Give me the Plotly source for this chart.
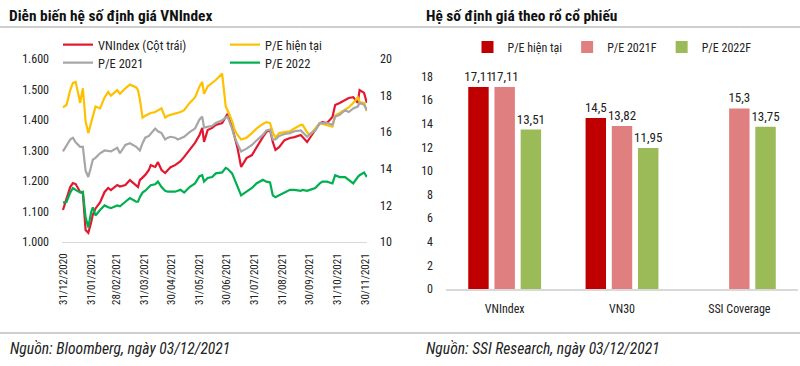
import plotly.graph_objects as go

# ---------------- data: left chart ----------------
dates = [
    "2020-12-31", "2021-01-04", "2021-01-08", "2021-01-11", "2021-01-14", "2021-01-19", "2021-01-22", "2021-01-25", "2021-01-28", "2021-01-31",
    "2021-02-02", "2021-02-05", "2021-02-10", "2021-02-15", "2021-02-19", "2021-02-22", "2021-03-01", "2021-03-04", "2021-03-10", "2021-03-15",
    "2021-03-22", "2021-03-24", "2021-03-26", "2021-03-29", "2021-04-01", "2021-04-05", "2021-04-07", "2021-04-12", "2021-04-15", "2021-04-19",
    "2021-04-23", "2021-04-26", "2021-04-29", "2021-05-04", "2021-05-07", "2021-05-10", "2021-05-14", "2021-05-20", "2021-05-26", "2021-05-31",
    "2021-06-03", "2021-06-05", "2021-06-09", "2021-06-14", "2021-06-18", "2021-06-25", "2021-06-29", "2021-07-01", "2021-07-06", "2021-07-09",
    "2021-07-12", "2021-07-16", "2021-07-22", "2021-07-28", "2021-08-02", "2021-08-09", "2021-08-13", "2021-08-17", "2021-08-20", "2021-08-23",
    "2021-08-27", "2021-09-02", "2021-09-08", "2021-09-13", "2021-09-20", "2021-09-22", "2021-09-27", "2021-09-30", "2021-10-06", "2021-10-11",
    "2021-10-14", "2021-10-19", "2021-10-25", "2021-10-28", "2021-11-02", "2021-11-08", "2021-11-12", "2021-11-17", "2021-11-22", "2021-11-24",
    "2021-11-29", "2021-12-02",
]
vnindex = [
    1105, 1140, 1180, 1193, 1190, 1164, 1160, 1039, 1030, 1062,
    1090, 1110, 1130, 1164, 1177, 1170, 1187, 1182, 1187, 1203,
    1187, 1180, 1203, 1212, 1220, 1236, 1252, 1246, 1262, 1236,
    1226, 1236, 1245, 1252, 1258, 1265, 1279, 1302, 1325, 1351,
    1374, 1328, 1367, 1374, 1384, 1390, 1410, 1420, 1377, 1344,
    1308, 1246, 1275, 1285, 1311, 1344, 1361, 1367, 1328, 1302,
    1311, 1334, 1341, 1344, 1351, 1345, 1328, 1341, 1367, 1390,
    1393, 1390, 1410, 1449, 1456, 1466, 1472, 1475, 1456, 1498,
    1489, 1456,
]
pe_current = [
    17.35, 17.5, 18.3, 18.7, 18.75, 17.6, 18.4, 16.6, 15.95, 16.5,
    16.9, 17.4, 17.3, 17.9, 18.2, 18.0, 18.3, 18.1, 18.4, 18.6,
    18.45, 18.3, 17.8, 16.8, 16.9, 17.0, 17.05, 17.1, 17.2, 17.3,
    16.8, 16.9, 16.95, 17.0, 17.05, 17.1, 17.2, 17.6, 17.9, 18.5,
    18.75, 18.1, 18.5, 18.7, 18.85, 19.2, 17.4, 17.2, 16.6, 16.1,
    15.85, 15.6, 15.7, 15.95, 16.2, 16.45, 16.55, 16.5, 16.0, 15.7,
    15.95, 16.0, 16.05, 16.2, 16.4, 16.4, 16.0, 15.85, 16.2, 16.5,
    16.45, 16.4, 16.3, 16.9, 17.05, 17.25, 17.35, 17.6, 17.9, 17.65,
    17.6, 17.15,
]
pe_2021 = [
    14.95, 15.3, 15.6, 15.7, 15.45, 15.2, 15.2, 13.9, 13.55, 14.1,
    14.5, 14.6, 14.85, 15.0, 14.95, 14.95, 15.15, 14.85, 15.3, 15.4,
    15.2, 15.1, 15.0, 15.4, 15.7, 15.8, 15.9, 16.2, 16.05, 15.95,
    15.6, 15.7, 15.75, 15.7, 15.6, 15.65, 15.75, 16.0, 16.2, 16.7,
    16.85, 16.25, 16.3, 16.35, 16.5, 16.65, 16.8, 16.85, 16.2, 15.7,
    15.35, 14.95, 15.1, 15.3, 15.55, 15.85, 16.1, 16.15, 15.6, 15.6,
    15.8, 15.9, 15.95, 16.05, 16.1, 16.0, 15.75, 15.9, 16.1, 16.5,
    16.5, 16.5, 16.4, 16.85, 16.95, 17.2, 17.1, 17.3, 17.4, 17.6,
    17.5, 17.2,
]
pe_2022 = [
    12.15, 12.2, 12.7, 12.95, 12.85, 12.7, 12.75, 11.35, 10.8, 11.6,
    11.9, 11.45, 11.75, 12.0, 11.9, 11.85, 12.0, 11.95, 12.2, 12.4,
    12.2, 12.2, 12.45, 12.7, 12.8, 13.0, 13.1, 13.15, 13.3, 13.0,
    12.8, 12.75, 12.75, 12.75, 12.8, 12.85, 12.7, 13.0, 13.2, 13.6,
    13.65, 13.3, 13.5, 13.55, 13.75, 13.8, 14.05, 14.0, 13.75, 13.4,
    13.1, 12.55, 12.75, 12.95, 13.2, 13.4, 13.3, 13.25, 12.55, 12.45,
    12.55, 12.7, 12.85, 12.85, 12.8, 12.85, 12.8, 12.85, 12.95, 13.2,
    13.3, 13.3, 13.2, 13.65, 13.55, 13.55, 13.4, 13.2, 13.55, 13.65,
    13.8, 13.55,
]
xtick_dates = ["2020-12-31", "2021-01-31", "2021-02-28", "2021-03-31", "2021-04-30", "2021-05-31",
               "2021-06-30", "2021-07-31", "2021-08-31", "2021-09-30", "2021-10-31", "2021-11-30"]
xtick_labels = ["31/12/2020", "31/01/2021", "28/02/2021", "31/03/2021", "30/04/2021", "31/05/2021",
                "30/06/2021", "31/07/2021", "31/08/2021", "30/09/2021", "31/10/2021", "30/11/2021"]
left_ticks = [1000, 1100, 1200, 1300, 1400, 1500, 1600]
left_tick_labels = ["1.000", "1.100", "1.200", "1.300", "1.400", "1.500", "1.600"]
right_ticks = [10, 12, 14, 16, 18, 20]

# ---------------- data: right chart ----------------
bar_categories = ["VNIndex", "VN30", "SSI Coverage"]
bar_pe_current = [17.11, 14.5, None]
bar_pe_2021f = [17.11, 13.82, 15.3]
bar_pe_2022f = [13.51, 11.95, 13.75]
bar_ticks = [0, 2, 4, 6, 8, 10, 12, 14, 16, 18]

FONT = "Liberation Sans Narrow, Arial Narrow, Roboto Condensed, Liberation Sans, Arial, sans-serif"
W, H = 800, 366


def px(x):
    return x / W


def py(y):
    return (H - y) / H


def lbl(vals):
    return ["" if v is None else str(v).replace(".", ",") for v in vals]


fig = go.Figure()

# left chart lines
fig.add_trace(go.Scatter(x=dates, y=vnindex, name="VNIndex (Cột trái)", mode="lines",
                         line=dict(color="#E3172F", width=2.2), xaxis="x", yaxis="y", legend="legend"))
fig.add_trace(go.Scatter(x=dates, y=pe_current, name="P/E hiện tại", mode="lines",
                         line=dict(color="#FFC000", width=2.2), xaxis="x", yaxis="y2", legend="legend"))
fig.add_trace(go.Scatter(x=dates, y=pe_2021, name="P/E 2021", mode="lines",
                         line=dict(color="#A6A6A6", width=2.2), xaxis="x", yaxis="y2", legend="legend2"))
fig.add_trace(go.Scatter(x=dates, y=pe_2022, name="P/E 2022", mode="lines",
                         line=dict(color="#00B050", width=2.2), xaxis="x", yaxis="y2", legend="legend2"))

# right chart bars
for name, vals, col in [("P/E hiện tại", bar_pe_current, "#C00000"),
                        ("P/E 2021F", bar_pe_2021f, "#E07F7F"),
                        ("P/E 2022F", bar_pe_2022f, "#9BBB59")]:
    fig.add_trace(go.Bar(x=bar_categories, y=vals, name=name, marker=dict(color=col, line=dict(width=0)),
                         text=lbl(vals), textposition="outside", cliponaxis=False, constraintext="none",
                         textfont=dict(family=FONT, size=13, color="#222222"),
                         xaxis="x2", yaxis="y3", legend="legend3"))

tickfont = dict(family=FONT, size=12, color="#222222")
legfont = dict(family=FONT, size=12.5, color="#222222")

fig.update_layout(
    width=W, height=H,
    margin=dict(l=0, r=0, t=0, b=0, pad=0, autoexpand=False),
    paper_bgcolor="white", plot_bgcolor="rgba(0,0,0,0)",
    font=dict(family=FONT, color="#222222"),
    barmode="group", bargap=0.33, bargroupgap=0.22,
    xaxis=dict(domain=[px(62), px(367)], type="date", automargin=False,
               range=["2020-12-29 22:00", "2021-12-02 05:00"],
               tickvals=xtick_dates, ticktext=xtick_labels, tickangle=-90,
               tickfont=dict(family=FONT, size=11, color="#222222"),
               showgrid=False, zeroline=False, showline=True, linecolor="#D9D9D9", linewidth=1,
               ticks="", ticklabelstandoff=6, anchor="y"),
    yaxis=dict(domain=[py(242), py(59)], range=[1000, 1600], tickvals=left_ticks, ticktext=left_tick_labels,
               automargin=False,
               tickfont=tickfont, showgrid=False, zeroline=False, showline=False, ticks="",
               ticklabelstandoff=12, anchor="x"),
    yaxis2=dict(range=[10, 20], tickvals=right_ticks, overlaying="y", side="right", anchor="x",
                automargin=False,
                tickfont=tickfont, showgrid=False, zeroline=False, showline=False, ticks="",
                ticklabelstandoff=12),
    xaxis2=dict(domain=[px(446), px(798)], anchor="y3", tickfont=tickfont, showgrid=False,
                automargin=False,
                zeroline=False, showline=True, linecolor="#D9D9D9", linewidth=1.5, ticks="",
                ticklabelstandoff=8),
    yaxis3=dict(domain=[py(289), py(289 - 18.5 * 11.8)], range=[0, 18.5], tickvals=bar_ticks,
                automargin=False,
                anchor="x2", tickfont=tickfont, showgrid=False, zeroline=False, showline=False,
                ticks="", ticklabelstandoff=12),
    legend=dict(orientation="h", x=px(58), xanchor="left", y=py(45), yanchor="middle",
                entrywidth=122, font=legfont, bgcolor="rgba(0,0,0,0)", itemwidth=30),
    legend2=dict(orientation="h", x=px(58), xanchor="left", y=py(63), yanchor="middle",
                 entrywidth=122, font=legfont, bgcolor="rgba(0,0,0,0)", itemwidth=30),
    legend3=dict(orientation="h", x=px(612), xanchor="center", y=py(47), yanchor="middle",
                 font=dict(family=FONT, size=12, color="#222222"), bgcolor="rgba(0,0,0,0)",
                 itemwidth=30),
    showlegend=True,
)

# separators
for yy in (27, 333):
    fig.add_shape(type="line", xref="paper", yref="paper", x0=0, x1=1, y0=py(yy), y1=py(yy),
                  line=dict(color="#CFCFCF", width=2))

# titles and notes
fig.add_annotation(text="<b>Diễn biến hệ số định giá VNIndex</b>", xref="paper", yref="paper",
                   x=px(7), y=py(16), xanchor="left", yanchor="middle", showarrow=False,
                   font=dict(family=FONT, size=15.4, color="#111111"))
fig.add_annotation(text="<b>Hệ số định giá theo rổ cổ phiếu</b>", xref="paper", yref="paper",
                   x=px(424), y=py(16), xanchor="left", yanchor="middle", showarrow=False,
                   font=dict(family=FONT, size=15.4, color="#111111"))
fig.add_annotation(text="<i>Nguồn: Bloomberg, ngày 03/12/2021</i>", xref="paper", yref="paper",
                   x=px(8), y=py(349), xanchor="left", yanchor="middle", showarrow=False,
                   font=dict(family=FONT, size=15.6, color="#222222"))
fig.add_annotation(text="<i>Nguồn: SSI Research, ngày 03/12/2021</i>", xref="paper", yref="paper",
                   x=px(424), y=py(349), xanchor="left", yanchor="middle", showarrow=False,
                   font=dict(family=FONT, size=15.6, color="#222222"))

fig.write_html("out.html", config={"displayModeBar": False},
               post_script="document.body.style.margin='0';document.body.style.overflow='hidden';")
